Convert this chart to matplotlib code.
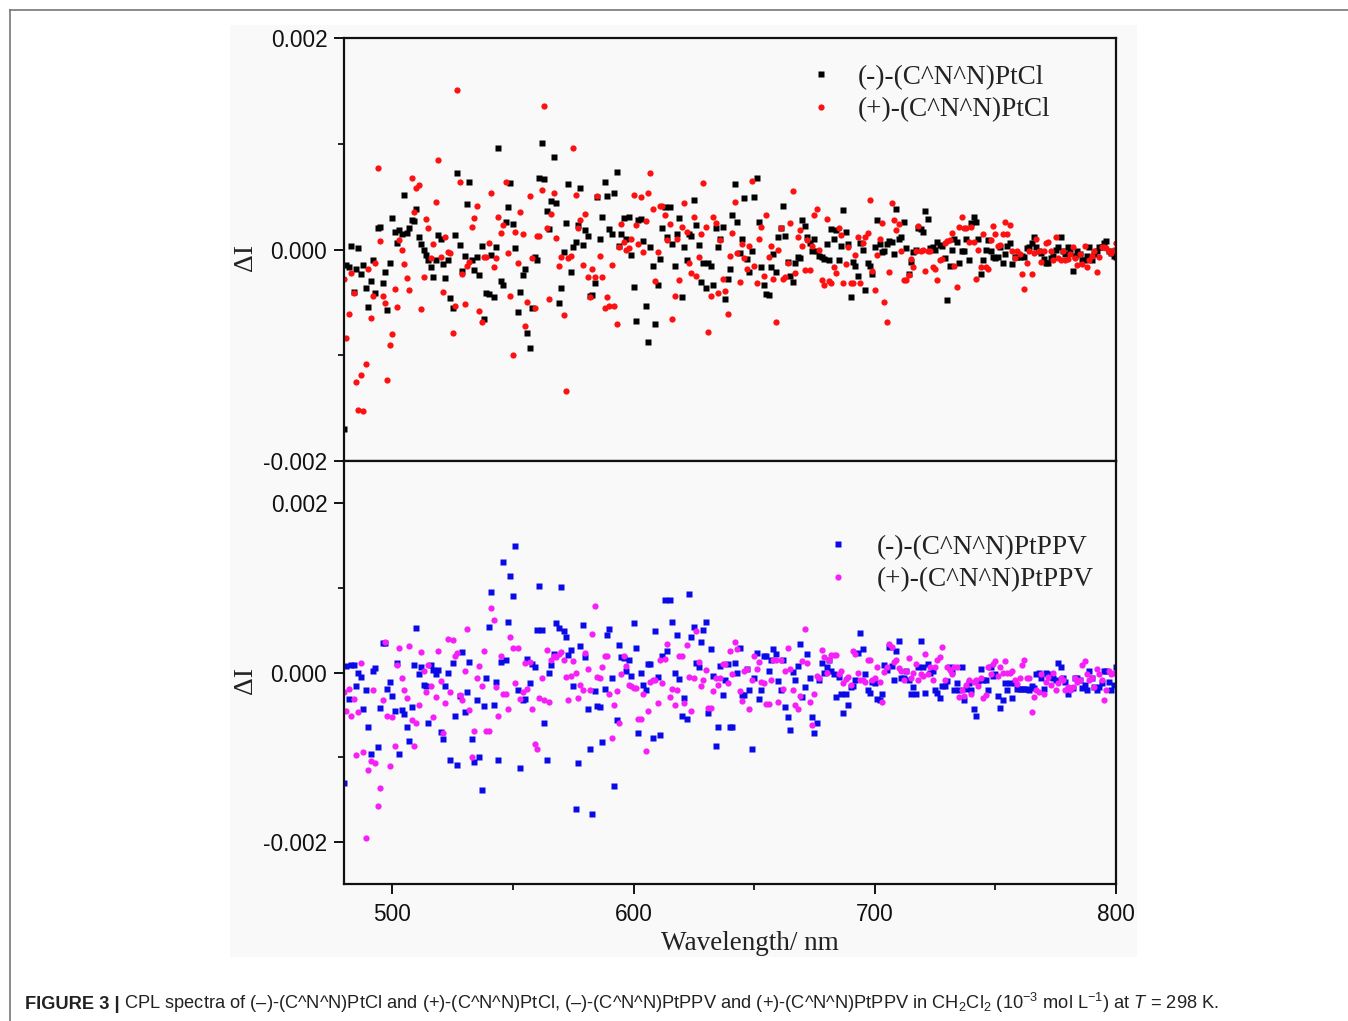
import numpy as np
import matplotlib
matplotlib.use("Agg")
import matplotlib.pyplot as plt
from matplotlib.lines import Line2D

# ---------------- data (values in units of 1e-4) ----------------
WL_START, WL_END = 480, 800
wavelength = np.arange(WL_START, WL_END + 1)

ptcl_minus = [  # (-)-(C^N^N)PtCl, black
    -17, -1.5, -1.7, 0.3, -4, -1.8, 0.1, -2.3, -1.5, -3.6,
    -5.4, -3, -1, -4.1, 2, 2.1, -3.2, -2.1, -5.7, -1.3,
    3, 1.7, 0.6, 1.8, 1.5, 5.2, 1.6, 2, 2.8, 2.7,
    3.8, 1.2, 0.5, 0, -0.5, -1, -1.7, -2.6, -1, 1.4,
    1, -1.4, -2.7, -1, -4.6, -5.5, 1.4, 7.2, 0.4, -2,
    -0.6, 4.3, 6.4, -1, -1.9, -0.7, -2.4, 0.3, -6.6, -4.1,
    -4.2, -0.5, -4.5, 0.2, 9.6, -3, -3.4, 2.6, 4, 6.3,
    2.4, 0.1, -5.9, -4, -2.4, -1.8, -7.9, -9.3, -5.5, -0.7,
    -1, 6.8, 10.1, 6.7, 3.6, 1.9, 4.6, 8.7, 4.4, -5.1,
    -3.6, -0.2, 2.5, 6.2, -2.1, 0.2, 0.7, 2.3, 5.8, 0.4,
    1.8, 1.3, -4.4, -4.3, -3.2, 5, 1.0, 3.1, 6.4, 5.1,
    1.9, 1.5, 5.3, 7.3, 0.3, 1.5, 3, 1.0, 3.1, -0.5,
    -3.5, -6.8, 2.8, 2.9, 0.8, -5.3, -8.7, 0.2, -1.6, -7,
    -3.4, -0.9, 2.0, 4, 1.2, 4, 0.5, -1.6, 1.5, 3,
    -4.5, 0.2, -1.0, 1.5, 1.3, 4.7, 2.3, 0.4, -3.1, -1.3,
    -3.6, -1.3, -1.6, -3.4, 2, 0.2, 1.0, 2.1, -4.7, -2.8,
    -1.8, 3.3, 6.2, 2.6, -0.3, 1, 4.9, -0.9, -2.1, -0.1,
    5, 6.8, 2.6, -1.7, -3.4, -4.2, -4.3, -1.7, -0.4, -2.1,
    1.2, 2, 4.1, 1.3, -1.2, -2.5, -3.1, -1.3, -0.7, -0.8,
    2.8, 2.2, 1.2, 0.6, -0.1, 1, -0.1, -0.6, -0.7, -0.9,
    0.5, -1, 1.9, 1, 1.8, -1, 0.3, 3.7, 1.7, 0.5,
    -4.5, -1.2, -1.6, -2.5, 0.6, 0.0, -3.8, -1.3, -1.6, -2.3,
    0.2, 2.8, 0.5, -0.2, -0.1, 0.5, 0.8, 0.7, -0.4, 3.8,
    1, 1.2, 2.6, 0.1, -2.3, -1.2, -0.2, 0, 2, 1.9,
    1.7, 3.6, 2.9, 0.1, 0.2, 0, 0.7, 0.4, 0.3, -0.8,
    -4.8, -1.6, 0, 1, 0.7, -1.3, -0.1, -0.1, 1, -1,
    2.5, 3.1, 2.6, 1, -2.3, -1, 0, 0.9, -0.1, -0.7,
    -0.8, -0.7, 0.2, -1.3, -0.4, 0.3, 0.6, -1.4, -0.7, -0.7,
    -0.7, -0.6, -0.7, 0.1, 0.2, 0.6, 1.2, 0.2, -0.1, -0.3,
    -0.9, -1.3, -1.3, -0.8, -0.6, 0, 0.2, 1.2, -0.1, -0.4,
    0.2, -0.1, -2, -0.6, -0.1, -0.4, -1, -1, -0.6, 0.2,
    -1, -0.4, -0.1, 0.2, 0.2, 0.6, 0.8, -0.1, -0.3, -0.6,
    -0.7,
]

ptcl_plus = [  # (+)-(C^N^N)PtCl, red
    -2.8, -8.4, -6.1, -2.2, -4.1, -12.5, -15.2, -11.9, -15.3, -10.8,
    -1.8, -6.5, -4.4, -1.3, 7.7, 0.8, -4.4, -5.1, -12.3, -9,
    -8, -3.7, -5.4, 0.9, 0, -1.4, -2.7, -3.8, 6.8, 3.5,
    5.8, 6.1, -5.6, -2.6, 2.9, 2, -0.8, 0.5, 4.5, 8.5,
    -0.7, -4, 1.2, -0.2, -0.3, -7.9, -5.3, 15.1, 6.4, -2.3,
    -5.2, -1.6, -1.2, 2.1, 3, 4.1, -5.8, -6.9, -0.7, -0.7,
    0.6, 5.3, -1.7, -0.8, 3.1, 1.6, 2.3, 6.4, -0.3, -4.4,
    -10, 1.7, -1.3, 3.5, 1.5, -7.2, -5, 5.1, -0.8, -5.5,
    1.3, 1.3, 5.6, 13.6, 2, -4.7, 3.4, 5.3, 1.1, -1.6,
    -0.7, -6.2, -13.4, -0.8, -0.6, 9.6, 5.2, 2, 2.8, -1.5,
    3.4, -2.6, -4.5, -1.8, -2.6, 5.1, -0.6, -2.6, -5.5, -4.5,
    -5.3, -1.5, -5.3, -7, 0.2, 2.4, 0.7, 0, 0.1, 1.0,
    5.2, 2.3, 0.5, 5, -0.2, 2.7, 5.3, 7.2, 3.8, -3,
    -0.2, 4.1, 4.1, 3.3, 0.9, 2.4, -6.6, -4.4, 1, -2.9,
    2.1, 4.4, 1.7, -1.3, -2.2, 3.1, -2.5, -0.7, 1.5, 6.3,
    2.1, -7.8, -4.4, 3.1, 2.5, -4.1, 0.9, -2.8, -3.9, -6.1,
    -0.6, 1.6, 4.5, -0.3, -3.1, 0.5, -0.8, -1.8, 0.3, 6.5,
    -1.6, -3.2, 1.0, 2.1, -2.5, 3.3, -0.7, 0.3, -2.8, -6.9,
    0, 2, -2.8, -2.6, -1.3, 2.5, 5.5, -2.2, 1.2, 1.8,
    0.3, -1.9, 0.9, -1.9, 0.3, 3.3, 3.8, 0, -2.9, -3.4,
    2.9, -3, -3.2, -1.7, -2.2, 2, 1.4, -3.2, -1.4, 0.2,
    -3.2, -3.2, -0.5, 1.2, -3.2, 0.6, 1.2, 1.6, 4.7, -2,
    -3.8, -0.5, 1, 2.5, -5, -6.9, -2.1, 4.4, 2.8, 1.8,
    2.4, -0.1, -2.9, -2.9, -2.4, -0.9, -1.7, -0.1, 2.2, -0.1,
    0, -2, -0.1, -0.1, -1.7, -1.8, -2.9, -1, -0.9, 0.6,
    0.8, 0.9, 1.6, -1.6, -3.5, 2.1, 3.1, 2, 2, 0.7,
    2.1, 0.7, -2.8, 0, -1.7, 1.5, -1.7, -1.8, 0.9, 2.2,
    1.5, 0.3, 0.4, 1.5, 2.6, 1.5, 2.3, -0.1, -0.8, -0.1,
    -0.4, -2.3, -3.7, -1.3, -0.1, -2.3, -0.3, 1, -0.1, -1.2,
    -0.1, 0.6, 0.7, -0.1, -1, 1.2, -0.8, -1, -0.1, -1,
    -0.9, -0.4, 0.2, -0.8, -1.5, -0.4, -1.4, 0.3, -1.7, -1,
    -0.6, -0.1, -2.1, -0.7, 0.2, 0.2, 0.1, -0.1, -0.3, 0,
    0.6,
]

ptppv_minus = [  # (-)-(C^N^N)PtPPV, blue
    -13.1, 0.8, -3.1, 0.9, 0.9, -1.6, 0, -0.5, -4.3, -2.1,
    -6.4, -9.6, 0.2, 0.5, -8.8, -4.2, 3.5, 3.5, -2, -1.1,
    -2.8, -4.5, 1.1, -9.6, -4.4, -4.9, -6.4, -8.1, -4.1, 0.9,
    5.3, -0.2, 0.6, -1.5, -1.6, -6, 0.9, 0.3, -0.2, 0.3,
    -7, -7.9, -1.6, 0, -10.4, 1.1, -5.1, -10.9, -2.8, 2.4,
    -4.7, -2.3, 1.3, -7.9, -10.6, -3.2, -10, -13.9, -4, -0.7,
    5.4, 9.5, -3.8, -1.1, -10.4, 1.2, 13.1, 1.5, 6, 11.4,
    9.1, 14.9, -2.1, -11.3, -3.3, -3.1, 1.6, -1.3, 1, 0.6,
    5, 10.2, 5, -6, -10.3, -0.1, 0.9, 2.2, 5.9, 5.3,
    10.1, 4.9, 4.2, 2.1, 2.7, -1.6, -16.1, -10.7, 3.1, 5.6,
    1.8, -4.3, -9, -16.7, -2.2, -4, -4.1, -8.2, -1.9, 4.4,
    5.1, -0.6, -13.4, -5.6, 3.3, 1.8, 1.7, 0.2, 1.5, -0.4,
    5.8, 2.9, -7.2, -0.1, -1.5, -2.1, 1, 1, -7.7, 4.9,
    -0.5, -7.4, 1.9, 8.6, 2.5, 8.6, 6, -0.1, 4.4, -0.8,
    -5.1, -3.0, -5.5, 9.3, 4.2, 5.4, 1.1, 0.6, 3.6, 5,
    6, -4.8, 2.8, -0.4, -8.7, -6.4, 0.8, -2.7, -0.9, 1.0,
    -6.5, -6.5, 1.1, -0.1, 2.9, -2.7, -2.7, 0.4, -2.1, -9.1,
    -0.7, 2.3, -3.1, -2.1, 2, 2, 0.2, 1.5, 2.8, 2.2,
    -1, -2.1, 1.5, -4.1, -5.3, -6.8, 0.1, -0.9, 0.8, 3.4,
    -2.9, -1.7, 2.2, -0.6, -5.3, -7.1, -6, -0.9, 1.1, 0,
    0.6, 1.5, 0.2, -0.2, -2.9, -0.5, -2.5, -4.8, -2.6, -3.9,
    -1.7, -1.6, -0.9, 2.3, 4.7, 2.8, -0.2, -2.1, -2.4, -1.1,
    -1.3, -3.1, -3.2, -2.5, 0.9, 0.3, 3, 0.8, -0.9, 2.6,
    3.7, -0.7, -0.6, 0.2, -0.9, -2.5, -1.7, -2.5, 0.6, 3.7,
    0.6, -2.4, 1, 0, 0.2, -2.1, -2.4, -3, -1.6, -1.6,
    -1, 0.6, 0.2, -2.1, -1.3, -2.1, 0.6, -3.3, -2, -1.3,
    -2.1, -4.3, -5.1, -1, 0.4, -0.9, -0.9, -2.1, 0.6, -0.4,
    -0.2, -2.8, -4.2, -3.3, -1.3, -2.1, -1.3, -3, -1.3, -2,
    -2, -2, -2, -1.9, -2.1, -1.6, -1.8, -0.2, 0, -0.6,
    -2, 0, -0.2, -0.5, -0.7, -0.9, 1.1, 0.6, -0.6, -1.1,
    -2.6, -2, -1.8, -0.6, -0.7, -0.9, -1.8, -1.5, -2.1, 0.2,
    -0.7, -1.7, -2.1, -1.7, -1.3, 0.2, 0.2, -1.1, -2.1, -1.5,
    0.7,
]

ptppv_plus = [  # (+)-(C^N^N)PtPPV, magenta
    -2.3, -4.6, -2, -5.1, -3.1, -9.8, -4.7, 1.1, -9.4, -19.6,
    -11.5, -10.5, -2.1, -10.7, -15.8, -13.6, -3.3, 3.6, -5.1, -11,
    -5.3, -8.7, 0.9, 2.9, -0.7, -2.1, -3, 3.1, -5.6, -8.7,
    -6, -3.8, 2.4, 0.2, -2.3, 0.9, -1.6, -5.3, -2.9, 2.5,
    -1, -7.2, -3.6, 4, -2.3, 3.8, 1.9, 2.3, -2.7, -3.3,
    0.2, 5.2, -4.4, -10, -6.9, -0.6, 0.8, -1.6, 2.6, -6.9,
    -6.9, 7.6, 6.2, -1.7, -5.1, 1.9, -2.5, -2.5, -4.3, 4.2,
    2.9, -1.3, 2.9, -3.1, -2.3, 1.1, -2, 1.2, -4.3, -8.5,
    -9, -3, -0.7, -3.3, 2.7, -3.5, 1.5, 2, 1.8, 2.2,
    2.4, 1.5, -0.5, -3.2, -0.4, 1.4, 0, -3, -1.5, -2.1,
    2.3, 0.4, -2.1, 4.5, 7.9, -0.5, -0.6, 0.6, 1.9, 2,
    -2.5, -7.7, -3.9, -2.2, -6, -0.2, 2, 0.8, -1.5, -1.6,
    -1.8, -1.8, -5.5, -5.5, -2.6, -9.3, -4.5, -1.1, -0.9, -0.9,
    -3.6, 1.5, -1.3, 1.6, 3.4, -2.9, -2, -3.9, -2.1, 1.9,
    1.9, -3.6, 3.2, -0.5, -4.6, -0.7, 4.9, 1.3, -1.6, -0.9,
    0.3, -4.2, -4.2, -2.2, -0.6, -1.5, -0.7, 1, 1, -1.3,
    2.5, -0.2, 3.6, 2.8, -2.2, -3.4, 0.2, 0.4, -4.3, -0.9,
    1.9, 0.4, 1.3, -1.1, -1.3, -3.7, -3.7, -0.9, 1.5, 1.5,
    -3.5, 1.5, -1.9, 0.2, 2.9, 0.4, -2.1, -3.8, -4.3, -2.8,
    1.4, 5.1, 1.1, -3.5, -6.2, -2.5, -0.4, -0.6, 2.7, 1.8,
    0, 1.5, 2.1, 2.1, 2.1, -0.2, 0.2, -1.3, -0.8, -0.5,
    -1.5, 2.6, 2.2, 0, -0.9, -0.9, -1.1, 1.5, 1.5, -0.9,
    -0.7, 0.7, -1.1, -3.5, 0.1, 0.7, 3.4, 3, 1.2, 1.5,
    0.5, 0.2, -0.9, 0.2, 1.7, -0.6, 0, 1, -0.9, -0.2,
    -0.4, 2.2, -0.2, 0.6, -0.9, 0.6, 1.5, 1.8, 3, -0.9,
    0.6, 0.3, -0.2, 0.6, 0.6, -2.9, -2.1, -2.8, -1.5, -0.9,
    -2.5, -1.1, -0.9, -1.6, -0.7, -3, -2.7, 0.7, -0.2, 1,
    1.4, -0.4, 0.6, 0, 1.4, 0, 0, 0.2, -0.9, -1.4,
    -0.7, 0.9, 1.5, -0.7, -0.6, -4.7, -2.9, -2.1, -2.3, -0.2,
    -2.5, -1.1, -0.5, -1.5, -0.1, -2.1, -1.3, -0.6, -0.9, -2.1,
    -1.7, -2.1, -1.7, -0.6, -1.1, -0.9, 0.9, 1.4, -0.2, -0.9,
    -0.7, -1.7, 0.4, -0.2, -0.9, -3.2, -2.1, 0.2, -0.2, -0.1,
    0,
]

SCALE = 1e-4
labels_top = ["(-)-(C^N^N)PtCl", "(+)-(C^N^N)PtCl"]
labels_bot = ["(-)-(C^N^N)PtPPV", "(+)-(C^N^N)PtPPV"]
xticks = [500, 600, 700, 800]
yticks = [-0.002, 0.0, 0.002]
ytick_labels = ["-0.002", "0.000", "0.002"]

# ---------------- figure ----------------
W, H = 1348, 1021
fig = plt.figure(figsize=(W / 100, H / 100), dpi=100)
fig.patch.set_facecolor("white")

SERIF = ["Liberation Serif", "DejaVu Serif"]
SANS = ["Liberation Sans", "DejaVu Sans"]

# light grey panel behind the chart
bg = plt.Rectangle((230 / W, 1 - 957 / H), 907 / W, 932 / H,
                   transform=fig.transFigure, facecolor="#f9f9f9",
                   edgecolor="none", zorder=-10)
fig.add_artist(bg)
# outer frame lines (left and top)
fig.add_artist(Line2D([10 / W, 10 / W], [0, 1 - 10 / H], transform=fig.transFigure,
                      color="#777777", lw=1.2, zorder=-5))
fig.add_artist(Line2D([10 / W, 1], [1 - 10 / H, 1 - 10 / H], transform=fig.transFigure,
                      color="#777777", lw=1.2, zorder=-5))

def px_axes(left, top, right, bottom):
    return [left / W, 1 - bottom / H, (right - left) / W, (bottom - top) / H]

ax1 = fig.add_axes(px_axes(344, 38, 1116, 461))
ax2 = fig.add_axes(px_axes(344, 461, 1116, 884))

wl = wavelength
ax1.plot(wl, np.array(ptcl_minus) * SCALE, "s", ms=3.9, color="black", mec="none",
         label=labels_top[0])
ax1.plot(wl, np.array(ptcl_plus) * SCALE, "o", ms=4.5, color="#ff1010", mec="none",
         label=labels_top[1])
ax2.plot(wl, np.array(ptppv_minus) * SCALE, "s", ms=3.9, color="#0a0ae6", mec="none",
         label=labels_bot[0])
ax2.plot(wl, np.array(ptppv_plus) * SCALE, "o", ms=4.5, color="#f71ff7", mec="none",
         label=labels_bot[1])

ax1.set_ylim(-0.002, 0.002)
ax2.set_ylim(-0.0025, 0.0025)

for ax in (ax1, ax2):
    ax.set_facecolor("#f9f9f9")
    ax.set_xlim(480, 800)
    ax.set_yticks(yticks)
    ax.set_yticklabels(ytick_labels, fontfamily=SANS, fontsize=16.3)
    ax.set_yticks([-0.001, 0.001], minor=True)
    for sp in ax.spines.values():
        sp.set_linewidth(1.6)
        sp.set_color("#111111")
    ax.tick_params(axis="y", which="major", direction="out", length=7, width=1.4, pad=5,
                   colors="#111111")
    ax.tick_params(axis="y", which="minor", direction="out", length=4, width=1.2)
    ax.set_ylabel("\u0394I", fontfamily=SERIF, fontsize=20, color="#222222")
    ax.yaxis.set_label_coords(-0.111, 0.48)

ax1.set_xticks([])
ax1.tick_params(axis="x", which="both", bottom=False, labelbottom=False)

ax2.set_xticks(xticks)
ax2.set_xticklabels([str(v) for v in xticks], fontfamily=SANS, fontsize=16.3)
ax2.set_xticks([550, 650, 750], minor=True)
ax2.tick_params(axis="x", which="major", direction="out", length=7, width=1.4, pad=7,
                colors="#111111")
ax2.tick_params(axis="x", which="minor", direction="out", length=4, width=1.2)
ax2.set_xlabel("Wavelength/ nm", fontfamily=SERIF, fontsize=19.5, color="#222222")
ax2.xaxis.set_label_coords(0.526, -0.110)

leg_kw = dict(frameon=False, loc="upper left", borderaxespad=0, borderpad=0,
              handlelength=1.0, labelspacing=0.27,
              prop={"family": SERIF, "size": 19.6}, markerscale=1.0)
l1 = ax1.legend(bbox_to_anchor=(0.600, 0.937), handletextpad=0.87, **leg_kw)
l2 = ax2.legend(bbox_to_anchor=(0.622, 0.826), handletextpad=0.94, **leg_kw)
for lg in (l1, l2):
    for t in lg.get_texts():
        t.set_color("#222222")

# ---------------- caption ----------------
plt.rcParams["mathtext.fontset"] = "custom"
plt.rcParams["mathtext.rm"] = "Liberation Sans"
plt.rcParams["mathtext.it"] = "Liberation Sans:italic"
CAP = ["Liberation Sans", "DejaVu Sans"]
cap_bold = "FIGURE 3 |"
cap_rest = ("CPL spectra of (\u2013)-(C^N^N)PtCl and (+)-(C^N^N)PtCl, (\u2013)-(C^N^N)PtPPV "
            "and (+)-(C^N^N)PtPPV in CH$_2$Cl$_2$ (10$^{-3}$ mol L$^{-1}$) at $T$ = 298 K.")
cap_y = 1 - 1009 / H
fs = 13.0
fig.canvas.draw()
r = fig.canvas.get_renderer()
t1 = fig.text(25 / W, cap_y, cap_bold, fontweight="bold", fontsize=fs, fontfamily=CAP,
              color="#222222", va="baseline")
t2 = fig.text(0, cap_y, cap_rest, fontsize=fs, fontfamily=CAP,
              color="#222222", va="baseline")
for _ in range(3):
    t1.set_fontsize(fs)
    t2.set_fontsize(fs)
    bb1 = t1.get_window_extent(r)
    t2.set_x((bb1.x1 + 0.35 * fs) / W)
    bb2 = t2.get_window_extent(r)
    total = bb2.x1 - bb1.x0
    fs = fs * (1222 - 25) / total

fig.savefig("out.png", dpi=100, facecolor="white")
